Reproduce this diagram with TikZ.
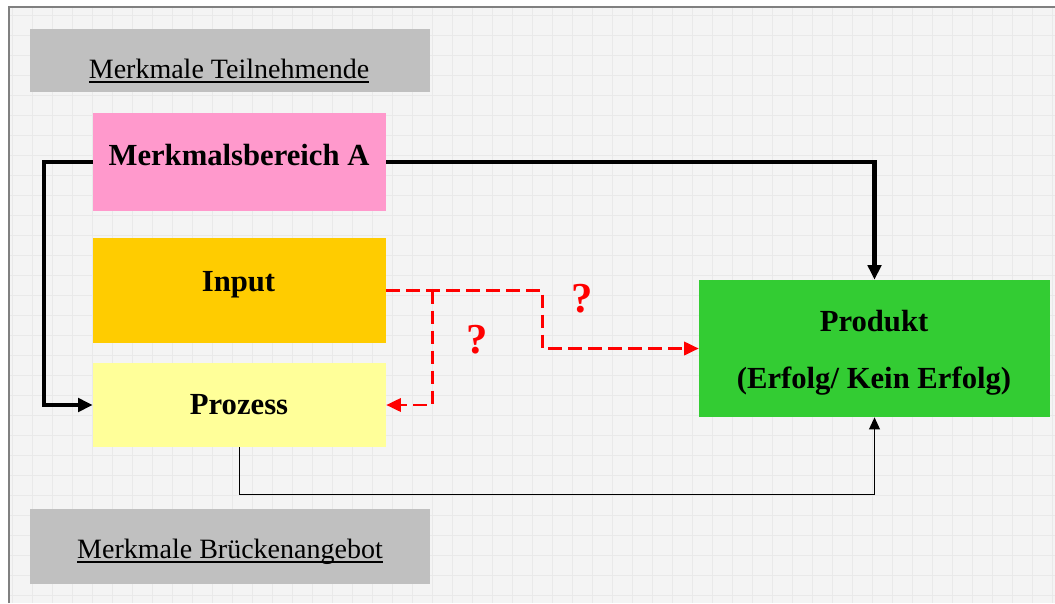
\documentclass[tikz,border=0pt]{standalone}
\usepackage{fontspec}
\setmainfont{Liberation Serif}
\usetikzlibrary{arrows.meta}
\definecolor{rosa}{HTML}{FF99CC}
\definecolor{orange}{HTML}{FFCC00}
\definecolor{hellgelb}{HTML}{FFFF99}
\definecolor{gruen}{HTML}{33CC33}
\definecolor{grau}{HTML}{C0C0C0}
\definecolor{papier}{HTML}{F4F4F4}
\definecolor{gitter}{HTML}{E9E9E9}
\newcommand\unterstr[1]{\setbox0\hbox{#1}\rlap{\raisebox{-3.9pt}{\rule{\wd0}{1.4pt}}}\box0}
\begin{document}
\begin{tikzpicture}[x=0.75pt,y=-0.75pt,line join=miter,
	box/.style={inner sep=0pt,minimum width=219.75pt},
	grbox/.style={inner sep=0pt,fill=grau,minimum width=300pt},
	fett/.style={font=\fontsize{23}{27}\selectfont\bfseries,anchor=base,inner sep=0pt},
	normal/.style={font=\fontsize{21}{25}\selectfont,anchor=base,inner sep=0pt},
	frage/.style={font=\fontsize{32}{36}\selectfont\bfseries,text=red,anchor=base,inner sep=0pt},
	dick/.style={line width=3.2pt,-{Triangle[length=11pt,width=10pt]}},
	duenn/.style={line width=1.1pt,-{Triangle[length=9pt,width=8pt]}},
	rot/.style={red,line width=2pt,dash pattern=on 10pt off 5pt,-{Triangle[length=11pt,width=10pt]}}]
	\useasboundingbox (0,0) rectangle (1055,603);
	\fill[papier] (9,7) rectangle (1055,603);
	\foreach \gx in {12,32,...,1052} \draw[gitter,line width=0.5pt] (\gx,7)--(\gx,603);
	\foreach \gy in {15,35,...,595} \draw[gitter,line width=0.5pt] (9,\gy)--(1055,\gy);
	\draw[gray,line width=1.2pt] (9,603)--(9,7)--(1055,7);

	\node[grbox,minimum height=47.25pt] (teiln) at (230,60.5) {};
	\node[grbox,minimum height=56.25pt] (bruecke) at (230,546.5) {};
	\node[box,fill=rosa,minimum height=73.5pt] (bereichA) at (239.5,162) {};
	\node[box,fill=orange,minimum height=78.75pt] (input) at (239.5,290.5) {};
	\node[box,fill=hellgelb,minimum height=63pt] (prozess) at (239.5,405) {};
	\node[inner sep=0pt,fill=gruen,minimum width=263.25pt,minimum height=102.75pt] (produkt) at (874.5,348.5) {};

	\node[normal] (teilnT) at (229,78) {\unterstr{Merkmale Teilnehmende}};
	\node[normal] (brueckeT) at (230,558) {\unterstr{Merkmale Brückenangebot}};
	\node[fett] (bereichT) at (239,165) {Merkmalsbereich A};
	\node[fett] (inputT) at (238.5,291) {Input};
	\node[fett] (prozessT) at (239,414) {Prozess};
	\node[fett] (produktT) at (874,331) {Produkt};
	\node[fett] (erfolgT) at (874,388) {(Erfolg/ Kein Erfolg)};

	\draw[dick] (bereichA.west) -- ++(-49,0) |- (prozess.west);
	\draw[dick] (bereichA.east) -| (produkt.north);
	\draw[duenn] (prozess.south) -- ++(0,47) -| (produkt.south);
	\draw[rot] (input.east) -- ++(156,0) |- (produkt.west);
	\draw[rot] (input.east) ++(46,0) |- (prozess.east);

	\node[frage] (frage1) at (582,312) {?};
	\node[frage] (frage2) at (477,353) {?};
\end{tikzpicture}
\end{document}
